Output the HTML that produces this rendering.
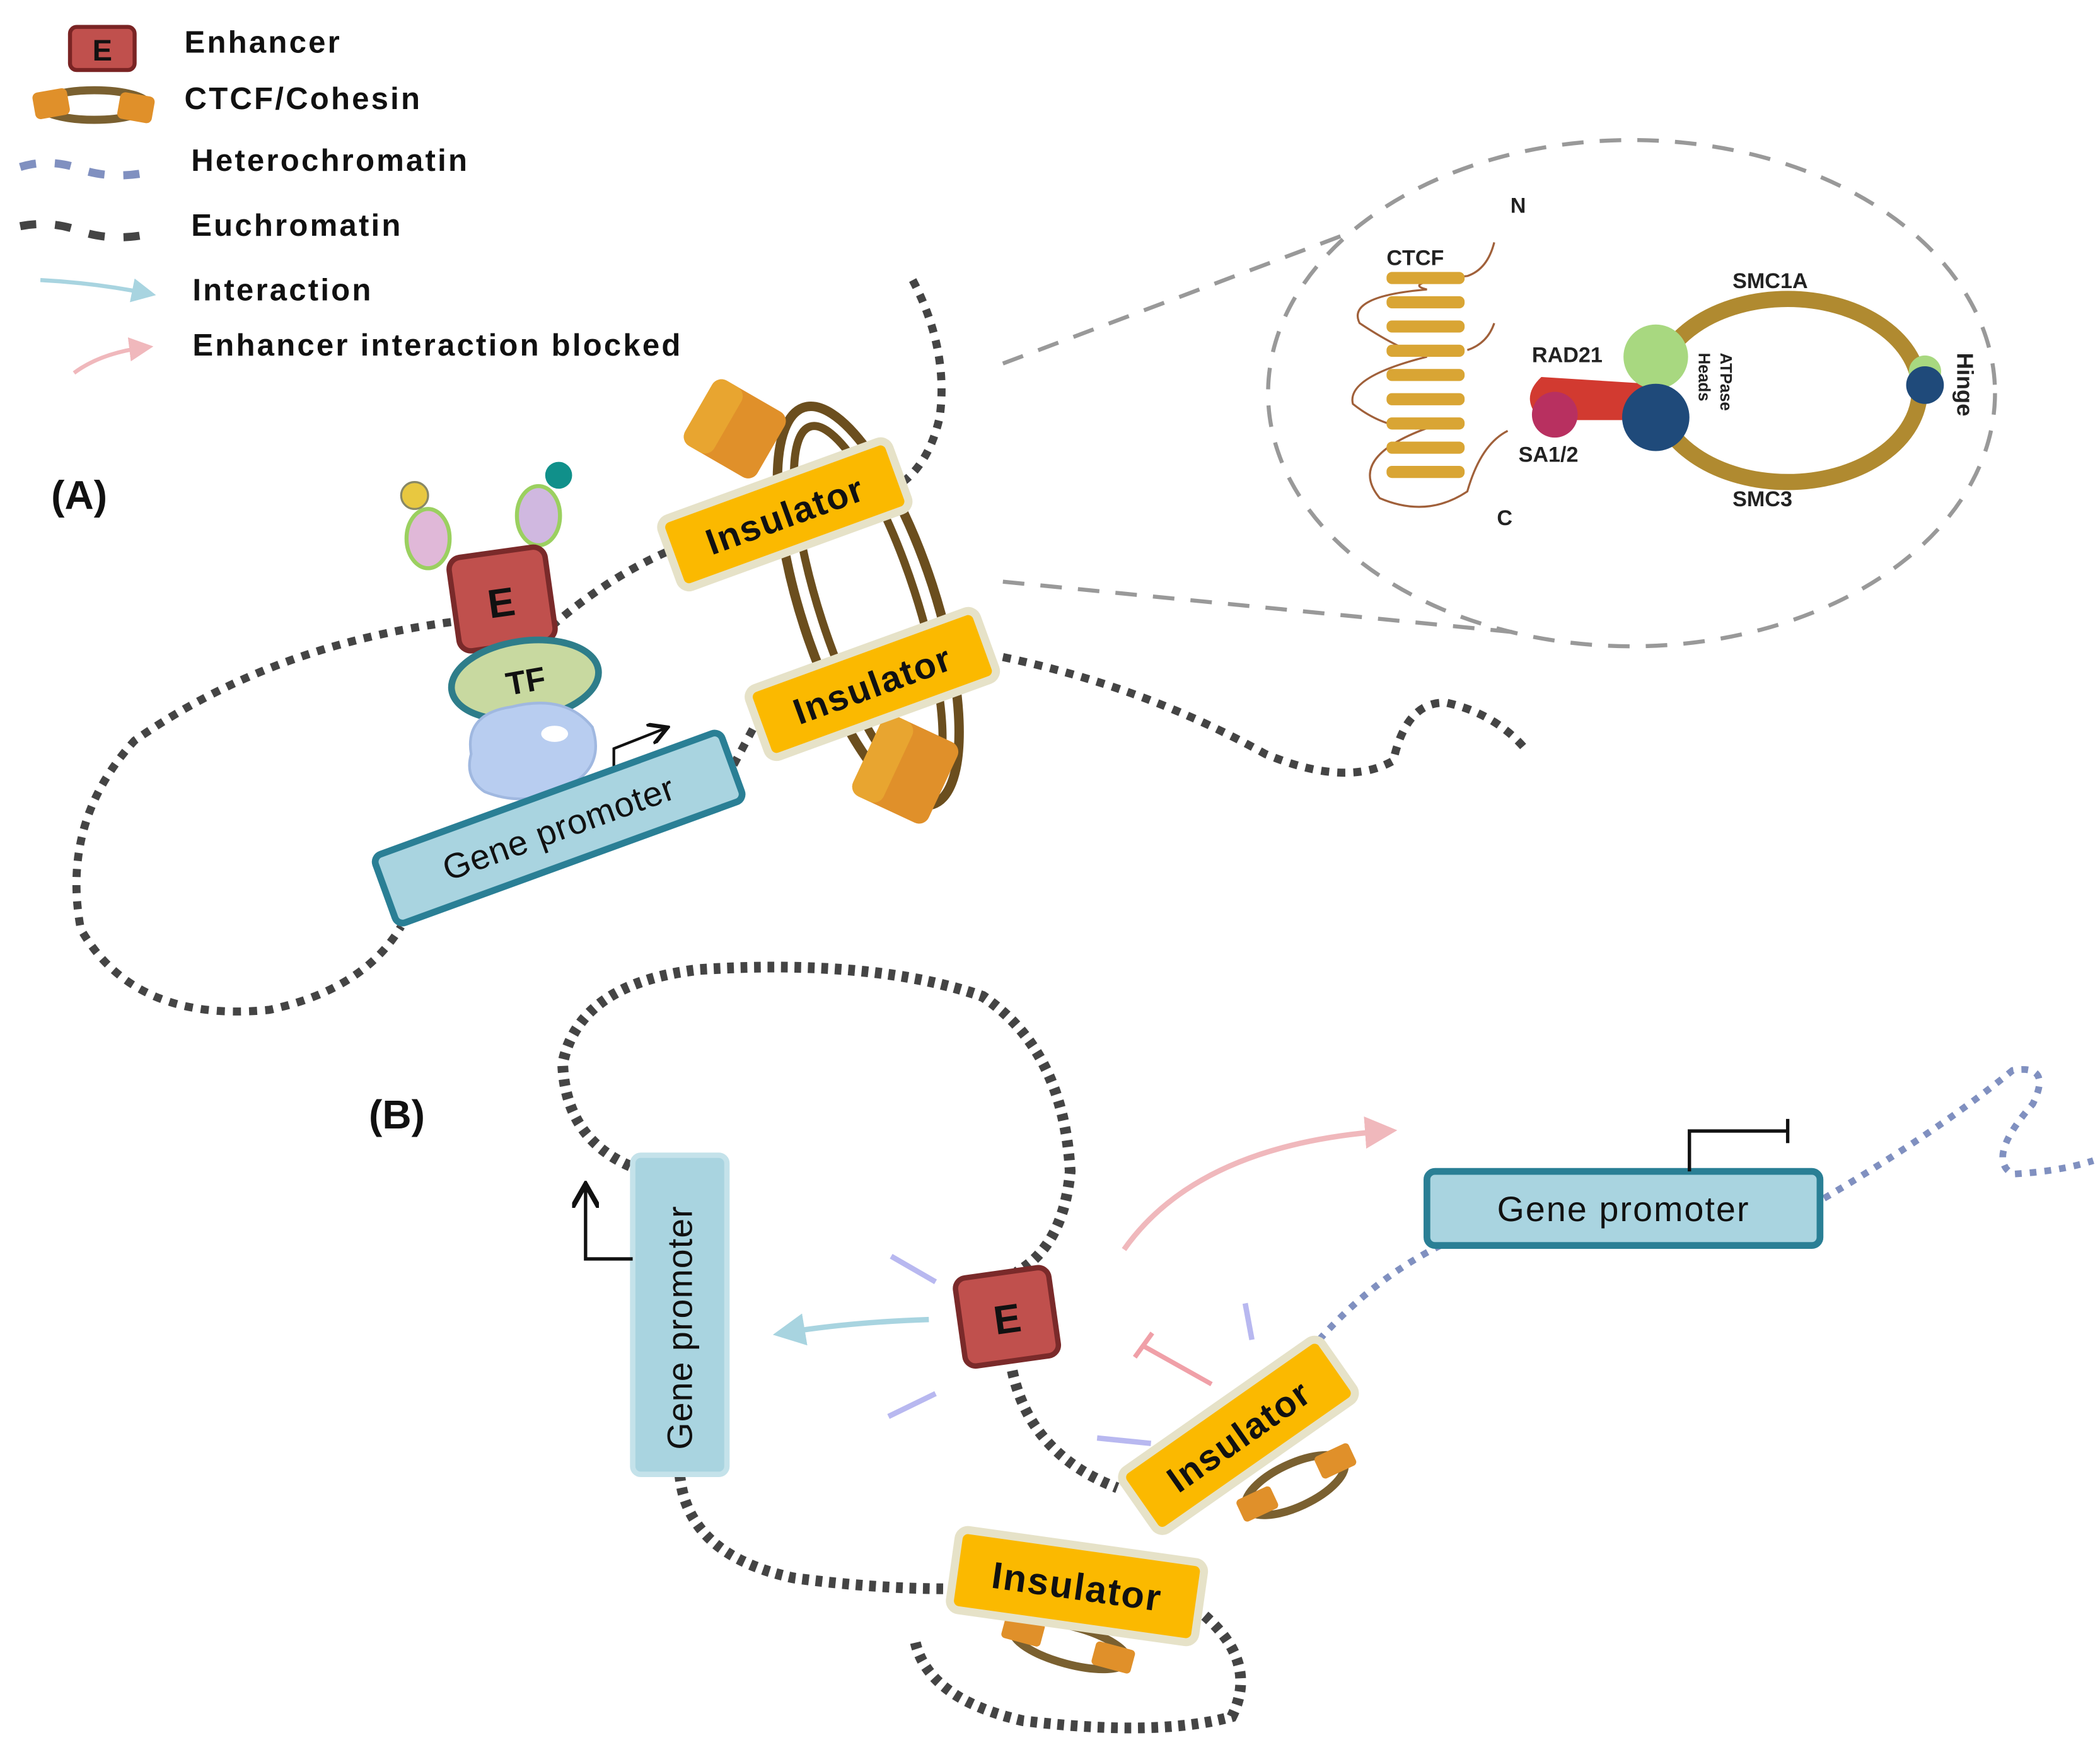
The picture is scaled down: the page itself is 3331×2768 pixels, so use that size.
<!DOCTYPE html>
<html><head><meta charset="utf-8"><style>
html,body{margin:0;padding:0;background:#fff;}
svg{display:block;}
text{font-family:"Liberation Sans",sans-serif;}
.lg{font-size:23px;font-weight:bold;letter-spacing:1.5px;fill:#111;}
</style></head><body>
<svg width="3331" height="2768" viewBox="0 0 1560 1296" preserveAspectRatio="none" xmlns="http://www.w3.org/2000/svg">
<defs>
<marker id="ab" markerWidth="6" markerHeight="6" refX="4" refY="3" orient="auto"><path d="M0,0 L6,3 L0,6 z" fill="#a8d4e0"/></marker>
<marker id="ap" markerWidth="6" markerHeight="6" refX="4" refY="3" orient="auto"><path d="M0,0 L6,3 L0,6 z" fill="#f0b8bc"/></marker>
<marker id="ak" markerWidth="8" markerHeight="8" refX="6" refY="4" orient="auto"><path d="M0,0 L7,4 L0,8" fill="none" stroke="#111" stroke-width="1.5"/></marker>
</defs>

<!-- Legend -->
<rect x="52" y="20" width="48" height="32" rx="5" fill="#c0504d" stroke="#7a2424" stroke-width="3"/>
<text x="76" y="45" font-size="22" font-weight="bold" text-anchor="middle" fill="#111">E</text>
<text x="137" y="39" class="lg">Enhancer</text>
<ellipse cx="70" cy="78" rx="40" ry="11" fill="none" stroke="#7a6030" stroke-width="6"/>
<rect x="25" y="67" width="26" height="20" rx="4" fill="#e0902a" transform="rotate(-10 38 77)"/>
<rect x="88" y="70" width="26" height="20" rx="4" fill="#e0902a" transform="rotate(10 101 80)"/>
<text x="137" y="81" class="lg">CTCF/Cohesin</text>
<path d="M15,124 Q35,118 55,124 Q80,134 110,128" fill="none" stroke="#8090c0" stroke-width="6" stroke-dasharray="12 14"/>
<text x="142" y="127" class="lg">Heterochromatin</text>
<path d="M15,168 Q35,164 55,170 Q80,180 110,174" fill="none" stroke="#444" stroke-width="6" stroke-dasharray="12 14"/>
<text x="142" y="175" class="lg">Euchromatin</text>
<path d="M30,208 Q70,210 110,218" fill="none" stroke="#a8d4e0" stroke-width="3" marker-end="url(#ab)"/>
<text x="143" y="223" class="lg">Interaction</text>
<path d="M55,277 Q75,262 108,258" fill="none" stroke="#f0b8bc" stroke-width="3" marker-end="url(#ap)"/>
<text x="143" y="264" class="lg">Enhancer interaction blocked</text>

<text x="38" y="378" font-size="30" font-weight="bold" fill="#111">(A)</text>
<text x="274" y="838" font-size="30" font-weight="bold" fill="#111">(B)</text>

<!-- A chromatin -->
<g fill="none" stroke="#444" stroke-width="6" stroke-dasharray="6 6">
<path d="M678,208 Q705,260 698,310 Q690,345 668,360"/>
<path d="M495,410 Q450,430 410,465"/>
<path d="M335,462 Q200,480 100,550 Q45,610 60,690 Q100,760 200,750 Q270,735 298,688"/>
<path d="M545,568 L560,540"/>
<path d="M745,488 Q850,510 940,560 Q1000,585 1035,565 Q1045,520 1075,522 Q1110,530 1132,555"/>
</g>

<!-- Cohesin loops A -->
<ellipse cx="645" cy="450" rx="50" ry="155" transform="rotate(-18 645 450)" fill="none" stroke="#6b4e1e" stroke-width="7"/>
<ellipse cx="645" cy="450" rx="36" ry="140" transform="rotate(-18 645 450)" fill="none" stroke="#6b4e1e" stroke-width="6"/>
<g transform="rotate(30 545 318)"><rect x="515" y="290" width="62" height="56" rx="8" fill="#e0902a"/><rect x="515" y="290" width="25" height="56" rx="8" fill="#e8a530"/></g>
<g transform="rotate(25 672 570)"><rect x="642" y="538" width="62" height="66" rx="8" fill="#e0902a"/><rect x="642" y="538" width="25" height="66" rx="8" fill="#e8a530"/></g>

<!-- Insulators A -->
<g transform="rotate(-20 583 382)"><rect x="493" y="355" width="180" height="54" rx="7" fill="#fbb900" stroke="#e6e2c8" stroke-width="6"/>
<text x="583" y="392" font-size="27" font-weight="bold" letter-spacing="1" text-anchor="middle" fill="#111">Insulator</text></g>
<g transform="rotate(-20 648 508)"><rect x="558" y="481" width="180" height="54" rx="7" fill="#fbb900" stroke="#e6e2c8" stroke-width="6"/>
<text x="648" y="518" font-size="27" font-weight="bold" letter-spacing="1" text-anchor="middle" fill="#111">Insulator</text></g>

<!-- Nucleosomes -->
<ellipse cx="318" cy="400" rx="16" ry="22" fill="#e0b8d8" stroke="#9bd060" stroke-width="3"/>
<circle cx="308" cy="368" r="10" fill="#e8c840" stroke="#886" stroke-width="1.5"/>
<ellipse cx="400" cy="383" rx="16" ry="22" fill="#d0b8e0" stroke="#9bd060" stroke-width="3"/>
<circle cx="415" cy="353" r="10" fill="#10908a"/>

<!-- E A -->
<g transform="rotate(-8 372 445)"><rect x="337" y="410" width="72" height="70" rx="9" fill="#c0504d" stroke="#7a2a2a" stroke-width="4"/>
<text x="372" y="458" font-size="30" font-weight="bold" text-anchor="middle" fill="#111">E</text></g>
<ellipse cx="390" cy="505" rx="55" ry="29" fill="#c8d9a0" stroke="#2e7d8a" stroke-width="5" transform="rotate(-8 390 505)"/>
<text x="392" y="514" font-size="24" font-weight="bold" text-anchor="middle" fill="#111" transform="rotate(-10 392 514)">TF</text>
<path d="M350,560 Q345,530 380,525 Q420,515 440,540 Q450,570 420,585 Q390,600 360,588 Q345,578 350,560z" fill="#b8cdf0" stroke="#a0b8e0" stroke-width="2"/>
<ellipse cx="412" cy="545" rx="10" ry="6" fill="#fff"/>
<path d="M456,572 L456,556 L494,541" fill="none" stroke="#111" stroke-width="2" marker-end="url(#ak)"/>
<g transform="rotate(-20 415 615)"><rect x="278" y="588" width="274" height="54" rx="6" fill="#a9d4e0" stroke="#2a7f95" stroke-width="5"/>
<text x="415" y="624" font-size="26" letter-spacing="0.5" text-anchor="middle" fill="#111">Gene promoter</text></g>

<!-- Zoom -->
<g fill="none" stroke="#999" stroke-width="3" stroke-dasharray="16 12">
<ellipse cx="1212" cy="292" rx="270" ry="188"/>
<path d="M745,270 L1005,172"/>
<path d="M745,432 L1130,470"/>
</g>
<path d="M1110,180 Q1105,200 1090,205 Q1040,210 1060,215 Q1000,220 1010,240 Q1040,260 1060,265 Q1000,280 1005,300 Q1030,320 1060,318 Q1000,340 1025,370 Q1060,385 1090,365 Q1100,330 1120,320" fill="none" stroke="#a0603a" stroke-width="1.5"/>
<path d="M1110,240 Q1105,255 1090,260" fill="none" stroke="#a0603a" stroke-width="1.5"/>
<g fill="#d9a534">
<rect x="1030" y="202" width="58" height="9" rx="4"/><rect x="1030" y="220" width="58" height="9" rx="4"/><rect x="1030" y="238" width="58" height="9" rx="4"/><rect x="1030" y="256" width="58" height="9" rx="4"/><rect x="1030" y="274" width="58" height="9" rx="4"/><rect x="1030" y="292" width="58" height="9" rx="4"/><rect x="1030" y="310" width="58" height="9" rx="4"/><rect x="1030" y="328" width="58" height="9" rx="4"/><rect x="1030" y="346" width="58" height="9" rx="4"/>
</g>
<ellipse cx="1328" cy="290" rx="98" ry="68" fill="none" stroke="#b08a30" stroke-width="12"/>
<path d="M1145,280 L1225,285 L1225,312 L1145,312 Q1128,296 1145,280z" fill="#d23a30"/>
<circle cx="1155" cy="308" r="17" fill="#b83060"/>
<circle cx="1230" cy="265" r="24" fill="#a8d880"/>
<circle cx="1230" cy="310" r="25" fill="#1f4a7a"/>
<circle cx="1430" cy="276" r="12" fill="#a8d880"/>
<circle cx="1430" cy="286" r="14" fill="#1f4a7a"/>
<g font-size="16" font-weight="bold" fill="#222">
<text x="1122" y="158">N</text><text x="1030" y="197">CTCF</text><text x="1112" y="390">C</text>
<text x="1138" y="269">RAD21</text><text x="1128" y="343">SA1/2</text>
<text x="1287" y="214">SMC1A</text><text x="1287" y="376">SMC3</text>
<text x="1454" y="262" transform="rotate(90 1454 262)" font-size="17">Hinge</text>
<text x="1278" y="262" transform="rotate(90 1278 262)" font-size="12">ATPase</text>
<text x="1262" y="262" transform="rotate(90 1262 262)" font-size="12">Heads</text>
</g>

<!-- B chromatin -->
<g fill="none" stroke="#444" stroke-width="8" stroke-dasharray="5 5">
<path d="M468,866 Q420,845 418,790 Q430,730 520,720 Q650,712 730,740 Q790,780 795,870 Q790,925 755,945"/>
<path d="M752,1018 Q765,1080 830,1105"/>
<path d="M505,1095 Q510,1155 590,1172 Q650,1180 705,1180"/>
<path d="M895,1200 Q935,1235 915,1275 Q860,1290 760,1278 Q690,1262 680,1220"/>
</g>
<g fill="none" stroke="#8090c0" stroke-width="5" stroke-dasharray="5 6">
<path d="M980,995 Q1020,950 1070,925"/>
<path d="M1355,890 Q1440,840 1495,795 Q1525,790 1510,820 Q1475,860 1495,872 Q1530,870 1555,862"/>
</g>

<!-- Vertical promoter -->
<rect x="470" y="858" width="70" height="237" rx="6" fill="#a9d4e0" stroke="#c4e2ea" stroke-width="4"/>
<text x="505" y="986" font-size="26" letter-spacing="0.5" text-anchor="middle" fill="#111" transform="rotate(-90 505 986)" dy="9">Gene promoter</text>
<path d="M470,935 L435,935 L435,882" fill="none" stroke="#111" stroke-width="2.5" marker-end="url(#ak)"/>

<!-- right promoter -->
<rect x="1060" y="870" width="292" height="55" rx="6" fill="#a9d4e0" stroke="#2a7f95" stroke-width="5"/>
<text x="1206" y="907" font-size="26" letter-spacing="1" text-anchor="middle" fill="#111">Gene promoter</text>
<path d="M1255,870 L1255,840 L1328,840 M1328,831 L1328,849" fill="none" stroke="#111" stroke-width="2.5"/>

<!-- arrows B -->
<path d="M690,980 Q630,982 582,990" fill="none" stroke="#a8d4e0" stroke-width="4" marker-end="url(#ab)"/>
<path d="M835,928 Q890,850 1030,840" fill="none" stroke="#f0b8bc" stroke-width="4" marker-end="url(#ap)"/>
<path d="M900,1028 L850,1000 M843,1008 L856,990" fill="none" stroke="#f0a0a8" stroke-width="3.5"/>
<g stroke="#b8b8f0" stroke-width="4">
<path d="M662,933 L695,952"/><path d="M660,1052 L695,1035"/><path d="M925,968 L930,995"/><path d="M815,1068 L855,1072"/>
</g>

<!-- E B -->
<g transform="rotate(-8 748 978)"><rect x="713" y="945" width="70" height="66" rx="8" fill="#c0504d" stroke="#7a2a2a" stroke-width="4"/>
<text x="748" y="990" font-size="30" font-weight="bold" text-anchor="middle" fill="#111">E</text></g>

<!-- Insulators B -->
<ellipse cx="962" cy="1103" rx="40" ry="16" transform="rotate(-25 962 1103)" fill="none" stroke="#7a6030" stroke-width="6"/>
<rect x="920" y="1108" width="28" height="18" rx="3" fill="#e0902a" transform="rotate(-25 934 1117)"/>
<rect x="978" y="1076" width="28" height="18" rx="3" fill="#e0902a" transform="rotate(-25 992 1085)"/>
<g transform="rotate(-35 920 1066)"><rect x="830" y="1039" width="180" height="54" rx="7" fill="#fbb900" stroke="#e6e2c8" stroke-width="6"/>
<text x="920" y="1076" font-size="27" font-weight="bold" letter-spacing="1" text-anchor="middle" fill="#111">Insulator</text></g>
<ellipse cx="795" cy="1222" rx="44" ry="14" transform="rotate(15 795 1222)" fill="none" stroke="#7a6030" stroke-width="6"/>
<rect x="745" y="1202" width="30" height="18" rx="3" fill="#e0902a" transform="rotate(15 760 1211)"/>
<rect x="812" y="1222" width="30" height="18" rx="3" fill="#e0902a" transform="rotate(15 827 1231)"/>
<g transform="rotate(8 800 1178)"><rect x="708" y="1148" width="184" height="60" rx="7" fill="#fbb900" stroke="#e6e2c8" stroke-width="6"/>
<text x="800" y="1188" font-size="28" font-weight="bold" letter-spacing="1" text-anchor="middle" fill="#111">Insulator</text></g>
</svg>
</body></html>
